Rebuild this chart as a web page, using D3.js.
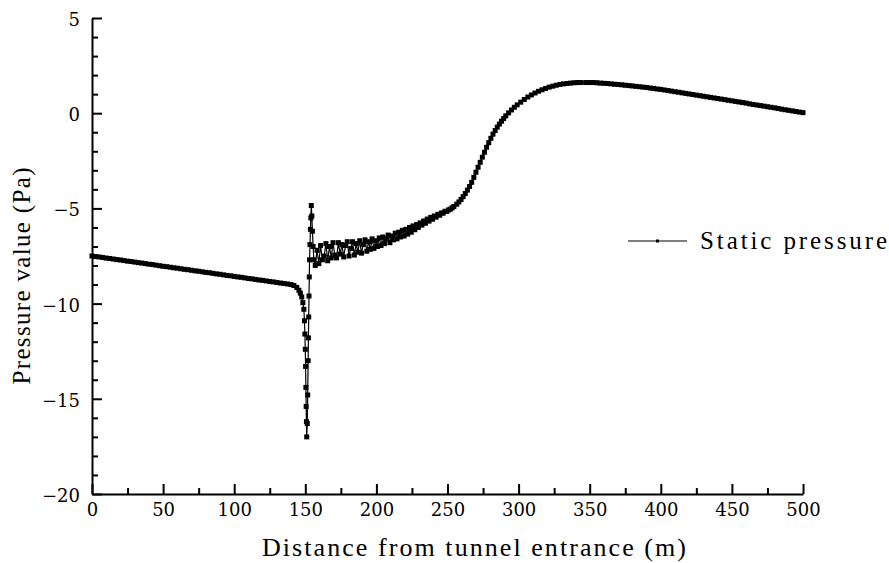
<!DOCTYPE html>
<html>
<head>
<meta charset="utf-8">
<script src="https://cdn.jsdelivr.net/npm/d3@7/dist/d3.min.js"></script>
<style>
    body { margin: 0; background: #fff; }
    svg { display: block; }
</style>
</head>
<body>
<svg id="chart" width="889" height="563"></svg>
<script>
// distance along the tunnel (m) and static pressure (Pa)
const distance = [
    0, 2.5, 5, 7.5, 10, 12.5, 15, 17.5, 20, 22.5,
    25, 27.5, 30, 32.5, 35, 37.5, 40, 42.5, 45, 47.5,
    50, 52.5, 55, 57.5, 60, 62.5, 65, 67.5, 70, 72.5,
    75, 77.5, 80, 82.5, 85, 87.5, 90, 92.5, 95, 97.5,
    100, 102.5, 105, 107.5, 110, 112.5, 115, 117.5, 120, 122.5,
    125, 127.5, 130, 132.5, 135, 137.5, 140, 142, 144, 145.5,
    146.5, 147.5, 148.3,
    149.0, 149.4, 149.7, 150.0, 150.2, 150.4, 150.6, 150.8, 151.0,
    151.4, 151.7, 152.0, 152.2, 152.4, 152.6, 152.8, 153.0, 153.3, 153.6,
    153.9, 154.2, 154.6, 155.0, 155.5, 156.0,
    157, 158.25, 159.5, 160.75, 162, 163.25, 164.5, 165.75, 167, 168.25,
    169.5, 170.75, 172, 173.25, 174.5, 175.75, 177, 178.25, 179.5, 180.75,
    182, 183.25, 184.5, 185.75, 187, 188.25, 189.5, 190.75, 192, 193.25,
    194.5, 195.75, 197, 198.25, 199.5, 200.75, 202, 203.25, 204.5, 205.75,
    207, 208.25, 209.5, 210.75, 212, 213.25, 214.5, 215.75, 217, 218.25,
    219.5, 220.75, 222, 223.25, 224.5, 225.75, 227, 228.25, 229.5, 230.75,
    232, 233.25, 234.5, 235.75, 237, 238.25, 239.5, 240.75, 242, 243.25,
    244.5, 245.75, 247, 248.25, 249.5, 250.75, 252, 253.25, 254.5,
    256.5, 258, 259.5, 261, 262.5, 264, 265.5, 267, 268.5, 270,
    271.5, 273, 274.5, 276, 277.5, 279, 280.5, 282, 283.5, 285,
    286.5, 288, 289.5, 291, 293, 295, 297, 299,
    301.5, 304, 306.5, 309, 311.5, 314, 316.5, 319, 321.5, 324,
    326.5, 329, 331.5, 334, 336.5, 339, 341.5, 344, 347.5,
    350, 352.5, 355, 357.5, 360, 362.5, 365, 367.5, 370, 372.5,
    375, 377.5, 380, 382.5, 385, 387.5, 390, 392.5, 395, 397.5,
    400, 402.5, 405, 407.5, 410, 412.5, 415, 417.5, 420, 422.5,
    425, 427.5, 430, 432.5, 435, 437.5, 440, 442.5, 445, 447.5,
    450, 452.5, 455, 457.5, 460, 462.5, 465, 467.5, 470, 472.5,
    475, 477.5, 480, 482.5, 485, 487.5, 490, 492.5, 495, 497.5,
    500
];
const pressure = [
    -7.50, -7.53, -7.55, -7.58, -7.61, -7.63, -7.66, -7.69, -7.71, -7.74,
    -7.77, -7.79, -7.82, -7.85, -7.87, -7.90, -7.93, -7.95, -7.98, -8.01,
    -8.04, -8.06, -8.09, -8.12, -8.14, -8.17, -8.20, -8.22, -8.25, -8.28,
    -8.30, -8.33, -8.36, -8.38, -8.41, -8.44, -8.46, -8.49, -8.52, -8.54,
    -8.57, -8.60, -8.62, -8.65, -8.68, -8.70, -8.73, -8.76, -8.78, -8.81,
    -8.84, -8.86, -8.89, -8.92, -8.94, -8.97, -9.00, -9.05, -9.15, -9.30,
    -9.45, -9.65, -9.95,
    -10.3, -10.9, -11.6, -12.4, -13.3, -14.4, -15.4, -16.2, -17.0,
    -16.3, -14.8, -13.0, -11.8, -10.7, -9.6, -8.6, -7.7, -6.9, -6.1,
    -5.5, -4.85, -5.4, -6.2, -7.0, -7.7,
    -8.0, -7.2, -7.9, -6.95, -7.7, -7.5, -6.85, -7.75, -7.0, -7.6,
    -6.8, -7.45, -7.6, -6.8, -7.4, -6.9, -7.55, -6.95, -6.75, -7.5,
    -7.1, -6.75, -7.45, -6.85, -7.3, -6.7, -7.35, -6.9, -6.65, -7.25,
    -6.75, -7.15, -6.6, -7.1, -6.7, -7.0, -6.55, -6.95, -6.5, -6.85,
    -6.6, -6.4, -6.8, -6.45, -6.65, -6.3, -6.6, -6.25, -6.5, -6.15,
    -6.45, -6.1, -6.35, -6.0, -6.25, -5.92, -6.12, -5.85, -6.0, -5.76,
    -5.88, -5.66, -5.78, -5.56, -5.67, -5.47, -5.57, -5.4, -5.46, -5.31,
    -5.36, -5.24, -5.25, -5.15, -5.16, -5.08, -5.04, -4.97, -4.9,
    -4.78, -4.66, -4.53, -4.38, -4.22, -4.04, -3.85, -3.63, -3.37, -3.1,
    -2.84, -2.58, -2.31, -2.05, -1.79, -1.55, -1.32, -1.1, -0.91, -0.73,
    -0.57, -0.42, -0.28, -0.14, 0.02, 0.17, 0.31, 0.44,
    0.58, 0.72, 0.85, 0.96, 1.06, 1.15, 1.23, 1.30, 1.37, 1.42,
    1.47, 1.51, 1.54, 1.56, 1.58, 1.60, 1.61, 1.61, 1.61,
    1.61, 1.61, 1.60, 1.58, 1.57, 1.56, 1.54, 1.52, 1.51, 1.49,
    1.47, 1.45, 1.43, 1.41, 1.39, 1.37, 1.35, 1.32, 1.30, 1.27,
    1.25, 1.22, 1.19, 1.16, 1.13, 1.10, 1.07, 1.04, 1.01, 0.98,
    0.95, 0.92, 0.89, 0.86, 0.83, 0.80, 0.77, 0.74, 0.71, 0.68,
    0.65, 0.62, 0.59, 0.56, 0.53, 0.49, 0.46, 0.43, 0.40, 0.37,
    0.34, 0.31, 0.28, 0.25, 0.21, 0.18, 0.15, 0.12, 0.09, 0.06,
    0.03
];
const xTicks = [0, 50, 100, 150, 200, 250, 300, 350, 400, 450, 500];
const xMinorTicks = [25, 75, 125, 175, 225, 275, 325, 375, 425, 475];
const yTicks = [5, 0, -5, -10, -15, -20];
const seriesName = 'Static pressure';
const xTitle = 'Distance from tunnel entrance (m)';
const yTitle = 'Pressure value (Pa)';

const tickFont = '"DejaVu Serif", serif';
const titleFont = '"Liberation Serif", "Times New Roman", Times, serif';

const svg = d3.select('#chart');
const x = d3.scaleLinear().domain([0, 500]).range([92, 803]);
const y = d3.scaleLinear().domain([-20, 5]).range([494, 18]);
const yMinorTicks = d3.range(-20, 6).filter(v => v % 5 !== 0);

// minor ticks first, majors on top
svg.append('g').attr('transform', 'translate(0,494)')
    .call(d3.axisBottom(x).tickValues(xMinorTicks).tickSize(-6).tickFormat(''))
    .call(g => g.select('.domain').remove())
    .selectAll('line').attr('stroke', '#000').attr('stroke-width', 2);
svg.append('g').attr('transform', 'translate(92,0)')
    .call(d3.axisLeft(y).tickValues(yMinorTicks).tickSize(-6).tickFormat(''))
    .call(g => g.select('.domain').remove())
    .selectAll('line').attr('stroke', '#000').attr('stroke-width', 2);

const styleAxis = g => {
    g.attr('font-family', tickFont).attr('font-size', 18);
    g.select('.domain').attr('stroke', '#000').attr('stroke-width', 2);
    g.selectAll('line').attr('stroke', '#000').attr('stroke-width', 2);
    g.selectAll('text').attr('fill', '#000').attr('font-family', tickFont).attr('font-size', 18);
};
const xAxis = svg.append('g').attr('transform', 'translate(0,494)')
    .call(d3.axisBottom(x).tickValues(xTicks).tickSize(-10).tickSizeOuter(0).tickPadding(9).tickFormat(d3.format('d')))
    .call(styleAxis);
xAxis.selectAll('text').attr('dy', '0.72em');

const yAxis = svg.append('g').attr('transform', 'translate(92,0)')
    .call(d3.axisLeft(y).tickValues(yTicks).tickSize(-10).tickSizeOuter(0).tickPadding(12).tickFormat(d3.format('d')))
    .call(styleAxis);
yAxis.selectAll('text').attr('dy', '0.42em');

// series: thin line with dense square markers
const points = distance.map((d, i) => [d, pressure[i]]);
svg.append('path').datum(points)
    .attr('fill', 'none').attr('stroke', '#000').attr('stroke-width', 1.2)
    .attr('d', d3.line().x(d => x(d[0])).y(d => y(d[1])));
const m = 5;
svg.append('g').selectAll('rect').data(points).join('rect')
    .attr('x', d => x(d[0]) - m / 2).attr('y', d => y(d[1]) - m / 2)
    .attr('width', m).attr('height', m).attr('fill', '#000');

// legend
const legend = svg.append('g').attr('transform', 'translate(628,241)');
legend.append('line').attr('x1', 0).attr('x2', 59).attr('stroke', '#000').attr('stroke-width', 1.2);
legend.append('rect').attr('x', 28).attr('y', -1.5).attr('width', 3).attr('height', 3).attr('fill', '#000');
legend.append('text').attr('x', 72).attr('y', 8)
    .attr('font-family', titleFont).attr('font-size', 25).attr('fill', '#000')
    .attr('textLength', 187).attr('lengthAdjust', 'spacing').text(seriesName);

// axis titles
svg.append('text').attr('x', 474).attr('y', 556).attr('text-anchor', 'middle')
    .attr('font-family', titleFont).attr('font-size', 26).attr('fill', '#000')
    .attr('textLength', 424).attr('lengthAdjust', 'spacing').text(xTitle);
svg.append('text').attr('transform', 'translate(30,276) rotate(-90)').attr('text-anchor', 'middle')
    .attr('font-family', titleFont).attr('font-size', 25).attr('fill', '#000')
    .attr('textLength', 217).attr('lengthAdjust', 'spacing').text(yTitle);
</script>
</body>
</html>
